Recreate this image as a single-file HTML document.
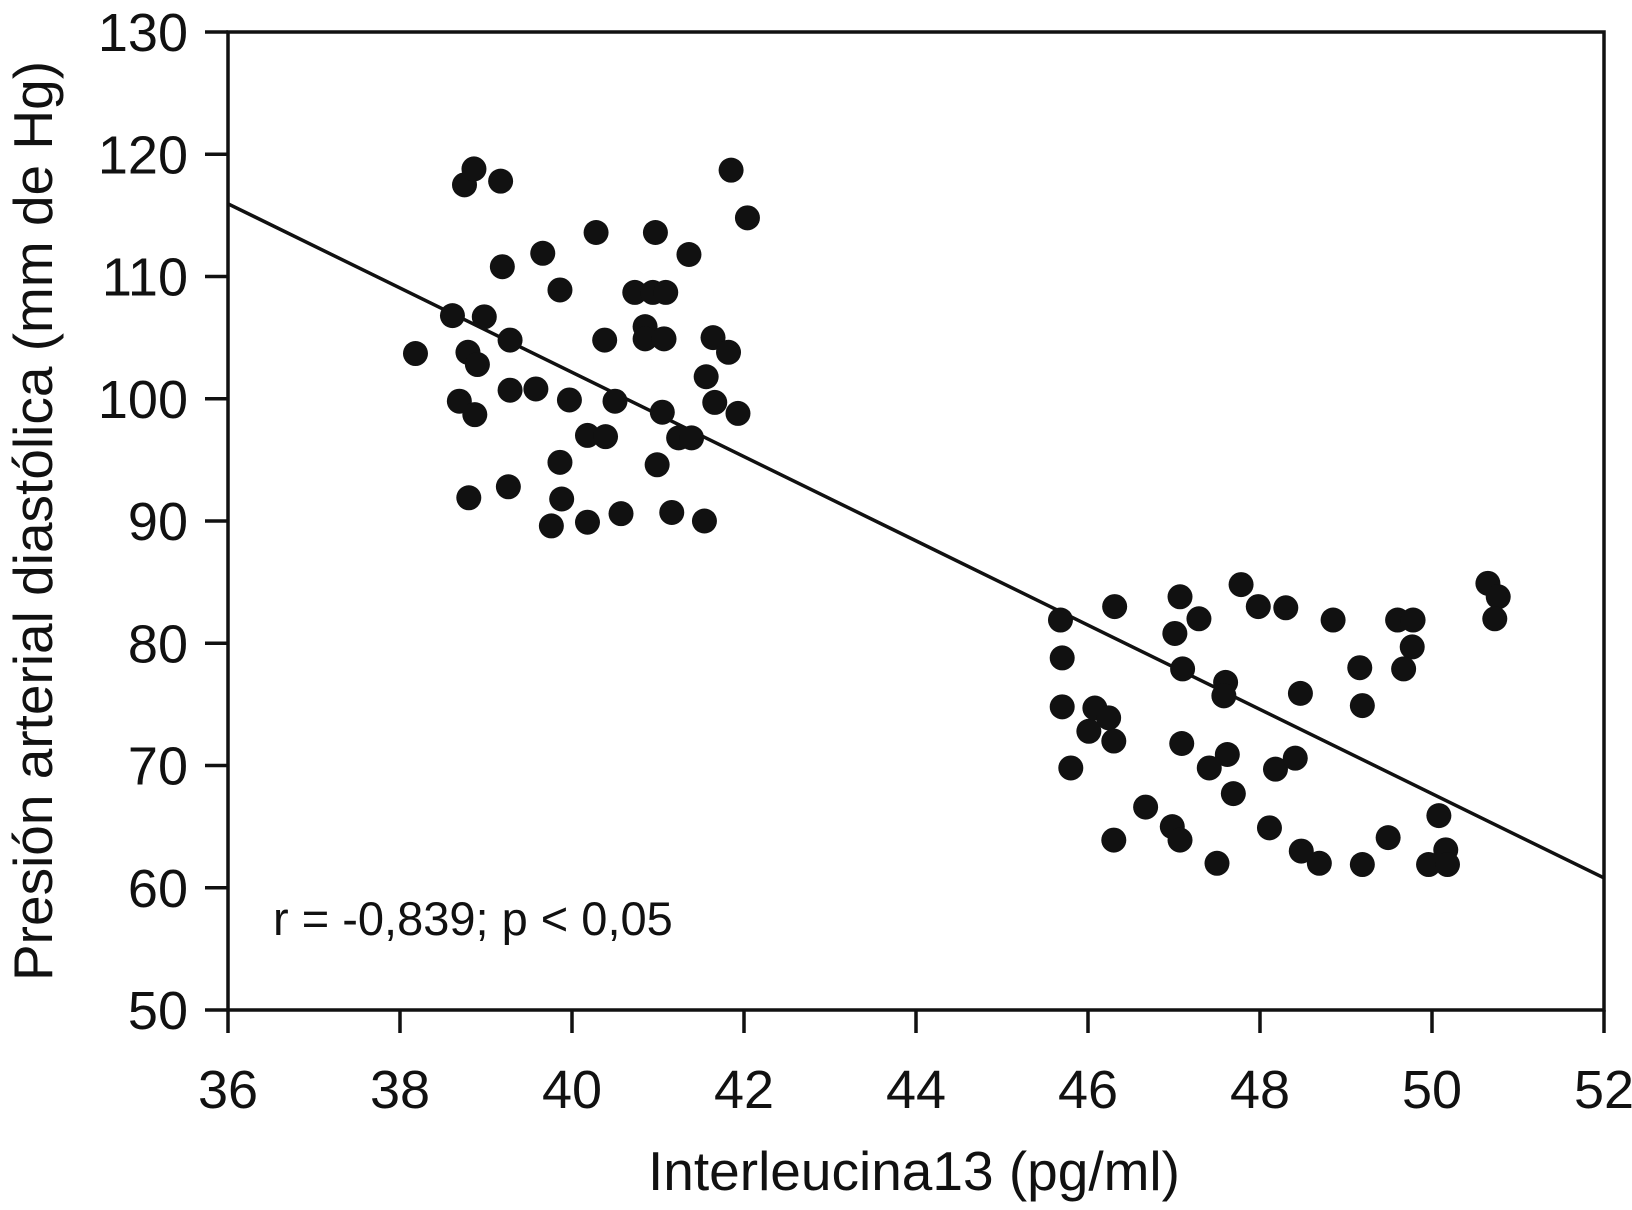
<!DOCTYPE html>
<html><head><meta charset="utf-8"><style>
html,body{margin:0;padding:0;background:#fff;}
svg{display:block;font-family:"Liberation Sans",Arial,sans-serif;}
</style></head><body>
<svg id="chart" width="1632" height="1210" viewBox="0 0 1632 1210" xmlns="http://www.w3.org/2000/svg"></svg>
<script>
const xTicks=[36,38,40,42,44,46,48,50,52];
const yTicks=[50,60,70,80,90,100,110,120,130];
const xVals=[38.18,38.61,38.75,38.86,39.17,38.79,38.90,38.69,38.87,38.80,38.98,39.19,39.28,39.28,39.26,39.58,39.66,39.86,39.86,39.88,39.76,39.97,40.18,40.18,40.28,40.38,40.39,40.50,40.57,40.73,40.85,40.85,40.94,40.97,41.09,41.07,41.05,40.99,41.16,41.24,41.39,41.36,41.56,41.64,41.66,41.85,41.82,41.93,42.04,41.54,
45.68,45.70,45.70,45.80,46.01,46.08,46.24,46.30,46.31,46.30,46.67,46.98,47.01,47.07,47.10,47.09,47.07,47.29,47.41,47.50,47.60,47.58,47.62,47.69,47.78,47.98,48.11,48.18,48.30,48.41,48.47,48.48,48.69,48.85,49.16,49.19,49.19,49.49,49.60,49.78,49.77,49.67,49.96,50.08,50.16,50.18,50.65,50.77,50.73];
const yVals=[103.7,106.8,117.5,118.8,117.8,103.8,102.8,99.8,98.7,91.9,106.7,110.8,104.8,100.7,92.8,100.8,111.9,108.9,94.8,91.8,89.6,99.9,97.0,89.9,113.6,104.8,96.9,99.8,90.6,108.7,105.9,104.9,108.7,113.6,108.7,104.9,98.9,94.6,90.7,96.8,96.8,111.8,101.8,105.0,99.7,118.7,103.8,98.8,114.8,90.0,
81.9,78.8,74.8,69.8,72.8,74.7,73.9,72.0,83.0,63.9,66.6,65.0,80.8,83.8,77.9,71.8,63.9,82.0,69.8,62.0,76.8,75.7,70.9,67.7,84.8,83.0,64.9,69.7,82.9,70.6,75.9,63.0,62.0,81.9,78.0,74.9,61.9,64.1,81.9,81.9,79.7,77.9,61.9,65.9,63.1,61.9,84.9,83.8,82.0];
const fitX=[36,52];
const fitY=[115.95,60.8];

const L=228,R=1604,T=32,B=1010;
const sx=v=>L+(v-36)/16*(R-L);
const sy=v=>B-(v-50)/80*(B-T);
const svg=document.getElementById('chart');
const NS='http://www.w3.org/2000/svg';
function mk(tag,attrs,parent){const e=document.createElementNS(NS,tag);for(const k in attrs)e.setAttribute(k,attrs[k]);(parent||svg).appendChild(e);return e;}

const frame=mk('rect',{x:L,y:T,width:R-L,height:B-T,fill:'none',stroke:'#111','stroke-width':3.5});



const xg=mk('g',{});


xTicks.forEach(t=>{
  const l=mk('line',{x1:sx(t),x2:sx(t),y1:B,y2:B+23,stroke:'#111','stroke-width':3.5},xg);
  
  
  const tx=mk('text',{x:sx(t),y:1108,'text-anchor':'middle','font-size':54,fill:'#111'},xg);
  
  
  tx.textContent=t;
});
const yg=mk('g',{});


yTicks.forEach(t=>{
  const l=mk('line',{x1:L-23,x2:L,y1:sy(t),y2:sy(t),stroke:'#111','stroke-width':3.5},yg);
  
  
  const tx=mk('text',{x:188,y:sy(t)+19,'text-anchor':'end','font-size':54,fill:'#111'},yg);
  
  
  tx.textContent=t;
});

const fit=mk('line',{x1:sx(fitX[0]),y1:sy(fitY[0]),x2:sx(fitX[1]),y2:sy(fitY[1]),stroke:'#111','stroke-width':3.5});



const pg=mk('g',{});


xVals.forEach((x,i)=>{
  const c=mk('circle',{cx:sx(x),cy:sy(yVals[i]),r:12.5,fill:'#111'},pg);
  
  
});

const ann=mk('text',{x:273,y:935,'font-size':47,fill:'#111'});


ann.textContent='r = -0,839; p < 0,05';

const xt=mk('text',{x:914,y:1190,'text-anchor':'middle','font-size':55,fill:'#111'});


xt.textContent='Interleucina13 (pg/ml)';

const yt=mk('text',{x:0,y:0,'text-anchor':'middle','font-size':55,fill:'#111',transform:'translate(52,521) rotate(-90)'});


yt.textContent='Presión arterial diastólica (mm de Hg)';
</script>
</body></html>
